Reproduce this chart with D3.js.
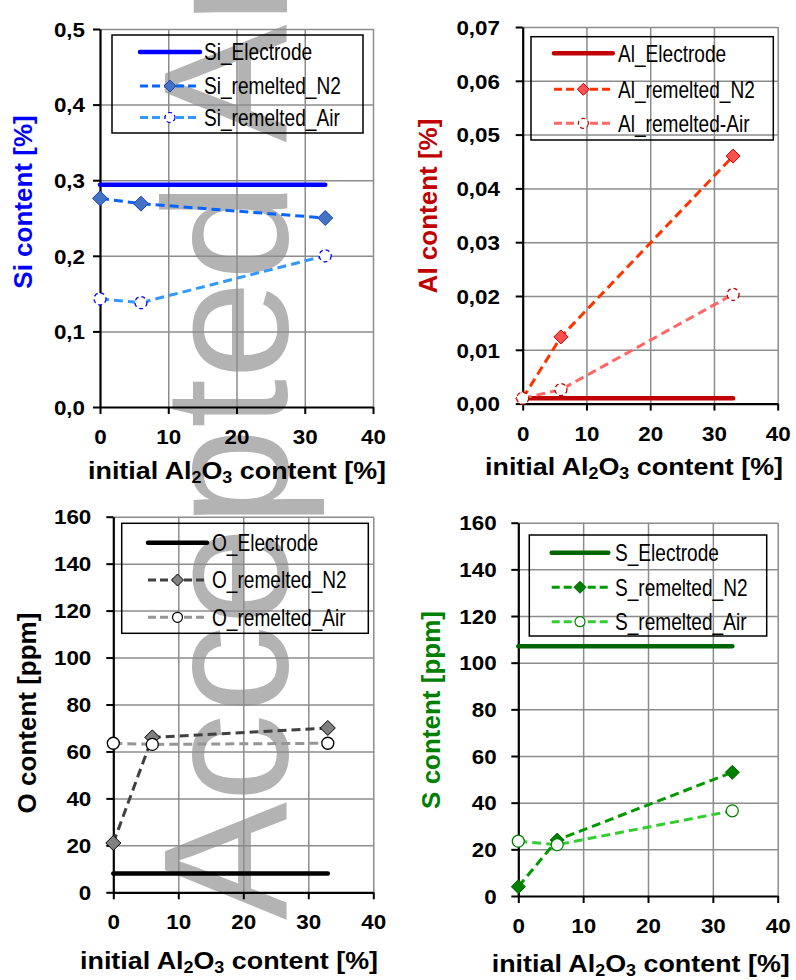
<!DOCTYPE html>
<html>
<head>
<meta charset="utf-8">
<script src="https://cdn.jsdelivr.net/npm/d3@7"></script>
<style>
  body { margin: 0; background: #fff; }
  svg { display: block; }
</style>
</head>
<body>
<svg id="chart" width="796" height="980"></svg>
<script>
// initial Al2O3 content of the slag [%]
const alContent = [0, 6, 33];
const electrodeRange = [0, 33];
const xTicks = [0, 10, 20, 30, 40];

// Si [%]
const siElectrode = 0.294;
const siN2 = [0.276, 0.269, 0.250];
const siAir = [0.143, 0.138, 0.200];

// Al [%]
const alElectrode = 0.001;
const alN2 = [0.001, 0.0124, 0.046];
const alAir = [0.001, 0.0026, 0.0203];

// O [ppm]
const oElectrode = 8;
const oN2 = [21, 66, 70];
const oAir = [63.5, 63, 63.5];

// S [ppm]
const sElectrode = 107;
const sN2 = [4, 24, 53];
const sAir = [23.5, 22, 36.5];

const siNames = ["Si_Electrode", "Si_remelted_N2", "Si_remelted_Air"];
const alNames = ["Al_Electrode", "Al_remelted_N2", "Al_remelted-Air"];
const oNames = ["O_Electrode", "O_remelted_N2", "O_remelted_Air"];
const sNames = ["S_Electrode", "S_remelted_N2", "S_remelted_Air"];

const FONT = "'Liberation Sans', Arial, Helvetica, sans-serif";
const GRID = "#8c8c8c";
const TICK_SX = 1.12;   // tick labels / x titles are a bit wide in the original
const LEG_SX = 0.83;    // legend text is narrow
const DASH = "9,5";

const svg = d3.select("#chart");
const diamond = d3.symbolDiamond2 || d3.symbolDiamond;

// watermark behind everything (runs off the top edge)
svg.append("text")
  .attr("transform", "translate(287,920) rotate(-90)")
  .attr("font-family", FONT)
  .attr("font-size", 177)
  .attr("fill", "#b3b3b3")
  .style("white-space", "pre")
  .text("Accepted Article");

const fmt1 = d => d.toFixed(1).replace(".", ",");
const fmt2 = d => d.toFixed(2).replace(".", ",");
const fmt0 = d3.format("d");

const panels = [
  {
    left: 100, right: 373, top: 29, bottom: 407, yMax: 0.5, yStep: 0.1, fmt: fmt1, tickGap: 15,
    yTitle: "Si content [%]", yTitleColor: "#0000ff", yTitleX: 23, yTitleY: 202,
    xTitleX: 88, xTitleY: 479,
    electrode: siElectrode, n2: siN2, air: siAir, names: siNames,
    colElectrode: "#0000ff", colN2: "#0a64ff", fillN2: "#4472c4", strokeN2: "#1c44b4",
    colAir: "#3399ff", strokeAir: "#0000ff", dashedAir: true, dia: 7.5,
    legend: { x0: 112, x1: 363, y0: 35, y1: 133, rows: [52, 86, 117.5], lx0: 140, lx1: 200, tx: 204 }
  },
  {
    left: 522.7, right: 777.7, top: 27, bottom: 403.6, yMax: 0.07, yStep: 0.01, fmt: fmt2, tickGap: 22.7,
    yTitle: "Al content [%]", yTitleColor: "#c00000", yTitleX: 428, yTitleY: 206,
    xTitleX: 485, xTitleY: 475,
    electrode: alElectrode, n2: alN2, air: alAir, names: alNames,
    colElectrode: "#c00000", colN2: "#ff3300", fillN2: "#ff5050", strokeN2: "#c00000",
    colAir: "#ff6666", strokeAir: "#c00000", dashedAir: true, dia: 7,
    legend: { x0: 531, x1: 773.3, y0: 36.7, y1: 140, rows: [53.3, 89.3, 123.3], lx0: 554, lx1: 612.7, tx: 618 }
  },
  {
    left: 113.3, right: 373.3, top: 516.7, bottom: 892.3, yMax: 160, yStep: 20, fmt: fmt0, tickGap: 22,
    yTitle: "O content [ppm]", yTitleColor: "#000000", yTitleX: 27, yTitleY: 713,
    xTitleX: 80, xTitleY: 969,
    electrode: oElectrode, n2: oN2, air: oAir, names: oNames,
    colElectrode: "#000000", colN2: "#404040", fillN2: "#808080", strokeN2: "#000000",
    colAir: "#969696", strokeAir: "#000000", dashedAir: false, dia: 7.5,
    legend: { x0: 121.7, x1: 368.3, y0: 523.3, y1: 633.3, rows: [542.7, 580, 617.3], lx0: 148, lx1: 207, tx: 212 }
  },
  {
    left: 518.3, right: 777.7, top: 522.7, bottom: 896, yMax: 160, yStep: 20, fmt: fmt0, tickGap: 21.6,
    yTitle: "S content [ppm]", yTitleColor: "#008000", yTitleX: 431, yTitleY: 710,
    xTitleX: 491.7, xTitleY: 972,
    electrode: sElectrode, n2: sN2, air: sAir, names: sNames,
    colElectrode: "#006400", colN2: "#009900", fillN2: "#008000", strokeN2: "#006400",
    colAir: "#33cc33", strokeAir: "#008000", dashedAir: false, dia: 7,
    legend: { x0: 529.3, x1: 766.7, y0: 535, y1: 636, rows: [552.7, 587.3, 621.7], lx0: 551.7, lx1: 608.3, tx: 615 }
  }
];

function diaSize(halfDiag) {
  return Math.pow(halfDiag / 0.62625, 2);
}

function drawPanel(p) {
  const x = d3.scaleLinear().domain([0, 40]).range([p.left, p.right]);
  const y = d3.scaleLinear().domain([0, p.yMax]).range([p.bottom, p.top]);
  const yTicks = d3.range(0, Math.round(p.yMax / p.yStep) + 1).map(i => +(i * p.yStep).toFixed(4));
  const g = svg.append("g");

  // gridlines
  g.append("g")
    .attr("transform", `translate(${p.left},0)`)
    .call(d3.axisLeft(y).tickValues(yTicks.slice(1)).tickSize(-(p.right - p.left)).tickFormat(""))
    .call(a => a.select(".domain").remove())
    .selectAll("line").attr("stroke", GRID).attr("stroke-width", 1.5);
  g.append("g")
    .attr("transform", `translate(0,${p.bottom})`)
    .call(d3.axisBottom(x).tickValues(xTicks.slice(1)).tickSize(-(p.bottom - p.top)).tickFormat(""))
    .call(a => a.select(".domain").remove())
    .selectAll("line").attr("stroke", GRID).attr("stroke-width", 1.5);

  // axes
  const ya = g.append("g")
    .attr("transform", `translate(${p.left},0)`)
    .call(d3.axisLeft(y).tickValues(yTicks).tickSize(7).tickSizeOuter(0).tickFormat(p.fmt));
  const xa = g.append("g")
    .attr("transform", `translate(0,${p.bottom})`)
    .call(d3.axisBottom(x).tickValues(xTicks).tickSize(7).tickSizeOuter(0).tickFormat(fmt0));

  [ya, xa].forEach(a => {
    a.select(".domain").attr("stroke", "#000").attr("stroke-width", 2.2);
    a.selectAll(".tick line").attr("stroke", "#000").attr("stroke-width", 2);
    a.selectAll(".tick text")
      .attr("font-family", FONT)
      .attr("font-size", 20)
      .attr("font-weight", "bold")
      .attr("fill", "#000")
      .attr("transform", `scale(${TICK_SX},1)`);
  });
  ya.selectAll(".tick text").attr("x", -p.tickGap / TICK_SX).attr("dy", "0.36em");
  xa.selectAll(".tick text").attr("y", 37).attr("dy", null);

  // series
  const line = d3.line().x(d => x(d[0])).y(d => y(d[1]));

  g.append("path")
    .datum(electrodeRange.map(v => [v, p.electrode]))
    .attr("d", line)
    .attr("fill", "none")
    .attr("stroke", p.colElectrode)
    .attr("stroke-width", 4.5)
    .attr("stroke-linecap", "round");

  const n2 = alContent.map((v, i) => [v, p.n2[i]]);
  const air = alContent.map((v, i) => [v, p.air[i]]);

  g.append("path")
    .datum(n2)
    .attr("d", line)
    .attr("fill", "none")
    .attr("stroke", p.colN2)
    .attr("stroke-width", 3)
    .attr("stroke-dasharray", DASH);
  g.append("g").selectAll("path")
    .data(n2)
    .join("path")
    .attr("transform", d => `translate(${x(d[0])},${y(d[1])})`)
    .attr("d", d3.symbol().type(diamond).size(diaSize(p.dia)))
    .attr("fill", p.fillN2)
    .attr("stroke", p.strokeN2)
    .attr("stroke-width", 1);

  g.append("path")
    .datum(air)
    .attr("d", line)
    .attr("fill", "none")
    .attr("stroke", p.colAir)
    .attr("stroke-width", 3)
    .attr("stroke-dasharray", DASH);
  g.append("g").selectAll("circle")
    .data(air)
    .join("circle")
    .attr("cx", d => x(d[0]))
    .attr("cy", d => y(d[1]))
    .attr("r", 6)
    .attr("fill", "#fff")
    .attr("stroke", p.strokeAir)
    .attr("stroke-width", 1.3)
    .attr("stroke-dasharray", p.dashedAir ? "4,3" : null);

  // legend
  const L = p.legend;
  const lg = g.append("g");
  lg.append("rect")
    .attr("x", L.x0).attr("y", L.y0)
    .attr("width", L.x1 - L.x0).attr("height", L.y1 - L.y0)
    .attr("fill", "none").attr("stroke", "#000").attr("stroke-width", 1.5);
  const mid = (L.lx0 + L.lx1) / 2;
  const styles = [
    { col: p.colElectrode, w: 4.5, dash: null },
    { col: p.colN2, w: 3, dash: "8,4" },
    { col: p.colAir, w: 3, dash: "8,4" }
  ];
  p.names.forEach((name, i) => {
    const ry = L.rows[i];
    lg.append("line")
      .attr("x1", L.lx0).attr("x2", L.lx1).attr("y1", ry).attr("y2", ry)
      .attr("stroke", styles[i].col).attr("stroke-width", styles[i].w)
      .attr("stroke-dasharray", styles[i].dash)
      .attr("stroke-linecap", i === 0 ? "round" : "butt");
    if (i === 1) {
      lg.append("path")
        .attr("transform", `translate(${mid},${ry})`)
        .attr("d", d3.symbol().type(diamond).size(diaSize(6))())
        .attr("fill", p.fillN2).attr("stroke", p.strokeN2).attr("stroke-width", 1);
    }
    if (i === 2) {
      lg.append("circle")
        .attr("cx", mid).attr("cy", ry).attr("r", 5)
        .attr("fill", "#fff").attr("stroke", p.strokeAir).attr("stroke-width", 1.2)
        .attr("stroke-dasharray", p.dashedAir ? "4,3" : null);
    }
    lg.append("text")
      .attr("transform", `translate(${L.tx},${ry + 8.3}) scale(${LEG_SX},1)`)
      .attr("font-family", FONT)
      .attr("font-size", 23)
      .attr("fill", "#000")
      .text(name);
  });

  // y title
  g.append("text")
    .attr("transform", `translate(${p.yTitleX},${p.yTitleY}) rotate(-90)`)
    .attr("text-anchor", "middle")
    .attr("dy", "0.36em")
    .attr("font-family", FONT)
    .attr("font-size", 26)
    .attr("font-weight", "bold")
    .attr("fill", p.yTitleColor)
    .text(p.yTitle);

  // x title with subscripts
  const xt = g.append("text")
    .attr("transform", `translate(${p.xTitleX},${p.xTitleY}) scale(${TICK_SX},1)`)
    .attr("font-family", FONT)
    .attr("font-size", 24)
    .attr("font-weight", "bold")
    .attr("fill", "#000")
    .style("white-space", "pre");
  xt.append("tspan").text("initial Al");
  xt.append("tspan").attr("font-size", 16).attr("dy", 4).text("2");
  xt.append("tspan").attr("dy", -4).text("O");
  xt.append("tspan").attr("font-size", 16).attr("dy", 4).text("3");
  xt.append("tspan").attr("dy", -4).text(" content [%]");
}

panels.forEach(drawPanel);
</script>
</body>
</html>
